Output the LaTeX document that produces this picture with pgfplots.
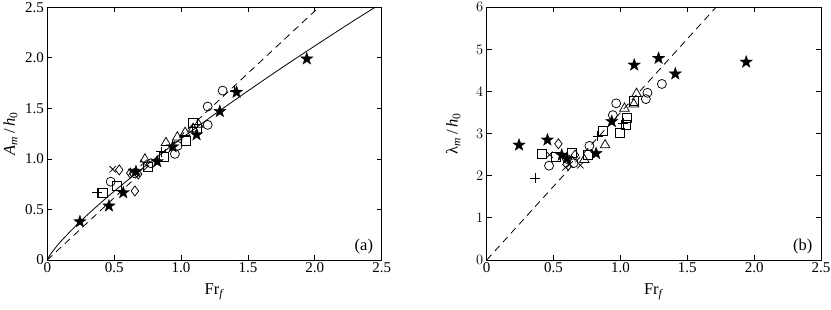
\documentclass[border=0pt]{standalone}
\usepackage{fontspec}
\setmainfont{Liberation Serif}
\usepackage{pgfplots}
\pgfplotsset{compat=1.18}
\usetikzlibrary{plotmarks}
\pgfdeclareplotmark{fstar}{%
  \pgfpathmoveto{\pgfqpointpolar{90}{\pgfplotmarksize}}%
  \pgfpathlineto{\pgfqpointpolar{126}{0.4\pgfplotmarksize}}%
  \pgfpathlineto{\pgfqpointpolar{162}{\pgfplotmarksize}}%
  \pgfpathlineto{\pgfqpointpolar{198}{0.4\pgfplotmarksize}}%
  \pgfpathlineto{\pgfqpointpolar{234}{\pgfplotmarksize}}%
  \pgfpathlineto{\pgfqpointpolar{270}{0.4\pgfplotmarksize}}%
  \pgfpathlineto{\pgfqpointpolar{306}{\pgfplotmarksize}}%
  \pgfpathlineto{\pgfqpointpolar{342}{0.4\pgfplotmarksize}}%
  \pgfpathlineto{\pgfqpointpolar{18}{\pgfplotmarksize}}%
  \pgfpathlineto{\pgfqpointpolar{54}{0.4\pgfplotmarksize}}%
  \pgfpathclose\pgfusepathqfillstroke}
\pgfplotsset{
  base/.style={
    scale only axis, width=334.4pt, height=252.7pt,
    xmin=0, xmax=2.5, xtick={0,0.5,1,1.5,2,2.5},
    xticklabels={0,0.5,1.0,1.5,2.0,2.5},
    tick align=inside, major tick length=5pt,
    axis line style={line width=0.9pt}, tick style={line width=0.8pt, black},
    tick label style={font=\fontsize{15}{16}\selectfont},
    xticklabel style={yshift=1pt},
    label style={font=\fontsize{16.5}{17}\selectfont},
    xlabel={Fr\textsubscript{\textit{f}}},
    xlabel style={at={(axis description cs:0.5,-0.125)}, anchor=center},
    clip=true,
  },
  pts/.style={only marks, black, line width=0.75pt, mark options={solid, fill=white}},
  stars/.style={only marks, black, mark=fstar, mark size=6.5pt, mark options={fill=black, line width=0.3pt}},
}
\begin{document}
\begin{tikzpicture}
\begin{axis}[base,
  ymin=0, ymax=2.5, ytick={0,0.5,1,1.5,2,2.5},
  yticklabels={0,0.5,1.0,1.5,2.0,2.5},
  ylabel={\textit{A}\textsubscript{\textit{m}}\,/\,\textit{h}\textsubscript{0}},
  ylabel style={at={(axis description cs:-0.11,0.5)}, anchor=center},
]
% fitted curve (read from figure)
\addplot[black, line width=0.8pt, smooth] coordinates {
(0,0) (0.01,0.028) (0.02,0.049) (0.05,0.103) (0.1,0.182) (0.2,0.321) (0.3,0.447)
(0.4,0.566) (0.5,0.680) (0.75,0.948) (1.0,1.20) (1.25,1.441) (1.5,1.673)
(1.75,1.899) (2.0,2.118) (2.25,2.333) (2.45,2.50)};
\addplot[black, line width=0.8pt, dash pattern=on 7pt off 5pt] coordinates {(0,0) (2.03,2.5)};
% circles
\addplot[pts, mark=o, mark size=4.5pt] coordinates {
(0.474,0.775) (0.65,0.86) (0.775,0.957) (0.954,1.05) (0.974,1.13)
(1.199,1.518) (1.311,1.676) (1.199,1.337)};
% squares
\addplot[pts, mark=square, mark size=4.5pt] coordinates {
(0.419,0.667) (0.523,0.733) (0.755,0.924) (0.872,1.017) (1.037,1.18)
(1.091,1.36) (1.12,1.30)};
% triangles
\addplot[pts, mark=triangle, mark size=5.5pt] coordinates {
(0.73,0.997) (0.887,1.16) (0.972,1.215) (1.03,1.26) (1.09,1.30) (1.13,1.34)};
% diamonds
\addplot[pts, mark=diamond, mark size=5pt] coordinates {
(0.538,0.891) (0.655,0.683) (0.62,0.86) (0.68,0.85)};
% crosses
\addplot[pts, mark=x, mark size=4.5pt] coordinates {
(0.489,0.898) (0.72,0.96) (0.63,0.87)};
% plus
\addplot[pts, mark=+, mark size=5pt] coordinates {
(0.374,0.667) (0.85,1.07) (1.40,1.67)};
% stars
\addplot[stars] coordinates {
(0.244,0.379) (0.461,0.535) (0.568,0.667) (0.663,0.875) (0.822,0.974)
(0.937,1.12) (1.116,1.24) (1.29,1.47) (1.415,1.66) (1.94,1.99)};
\node[anchor=south east, inner sep=0pt, font=\fontsize{16.5}{17}\selectfont]
  at (rel axis cs:1,0) [xshift=-8.5pt, yshift=6pt] {(a)};
\end{axis}
\begin{axis}[base, xshift=439.4pt,
  ymin=0, ymax=6, ytick={0,1,2,3,4,5,6},
  ylabel={λ\textsubscript{\textit{m}}\,/\,\textit{h}\textsubscript{0}},
  ylabel style={at={(axis description cs:-0.10,0.5)}, anchor=center},
]
\addplot[black, line width=0.8pt, dash pattern=on 7pt off 5pt] coordinates {(0,0) (1.714,6)};
% circles
\addplot[pts, mark=o, mark size=4.5pt] coordinates {
(0.466,2.24) (0.60,2.40) (0.65,2.30) (0.768,2.71) (0.943,3.44) (0.968,3.72)
(1.202,3.97) (1.19,3.82) (1.31,4.18)};
% squares
\addplot[pts, mark=square, mark size=4.5pt] coordinates {
(0.41,2.52) (0.52,2.45) (0.64,2.55) (0.76,2.50) (0.868,3.06) (0.999,3.01)
(1.05,3.37) (1.04,3.20) (1.10,3.77)};
% triangles
\addplot[pts, mark=triangle, mark size=5.5pt] coordinates {
(0.885,2.73) (0.73,2.38) (1.03,3.60) (1.10,3.70) (1.12,3.95)};
% diamonds
\addplot[pts, mark=diamond, mark size=5pt] coordinates {
(0.536,2.76) (0.66,2.49)};
% crosses
\addplot[pts, mark=x, mark size=4.5pt] coordinates {
(0.47,2.50) (0.59,2.20) (0.62,2.27) (0.70,2.25)};
% plus
\addplot[pts, mark=+, mark size=5pt] coordinates {
(0.361,1.94) (0.83,2.94) (1.02,3.25)};
% stars
\addplot[stars] coordinates {
(0.242,2.73) (0.454,2.85) (0.561,2.49) (0.599,2.41) (0.818,2.53) (0.935,3.29)
(1.103,4.63) (1.285,4.79) (1.41,4.42) (1.94,4.70)};
\node[anchor=south east, inner sep=0pt, font=\fontsize{16.5}{17}\selectfont]
  at (rel axis cs:1,0) [xshift=-8.5pt, yshift=6pt] {(b)};
\end{axis}
\pgfresetboundingbox
\path[use as bounding box] (-47.3pt,-49pt) rectangle (783.7pt,260pt);
\end{tikzpicture}
\end{document}
